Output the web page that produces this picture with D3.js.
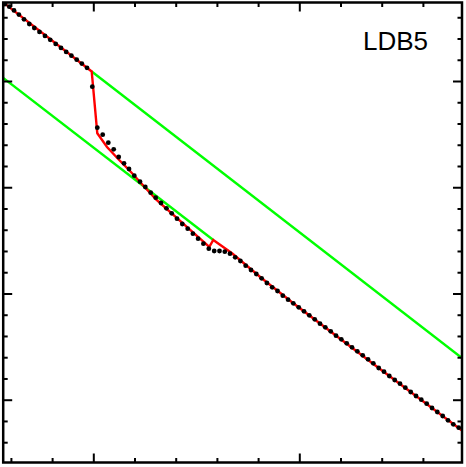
<!DOCTYPE html>
<html>
<head>
<meta charset="utf-8">
<script src="https://cdn.jsdelivr.net/npm/d3@7"></script>
<style>
html,body{margin:0;padding:0;background:#fff;}
svg{display:block;}
</style>
</head>
<body>
<script>
// ---- data ----
const dotX = [0.5714,0.5922,0.6150,0.6388,0.6636,0.6893,0.7136,0.7388,0.7655,0.7908,0.8175,0.8432,0.8684,0.8937,0.9194,0.9442,0.9694,
  0.9951,1.0194,1.0456,1.0728,1.0990,1.1233,1.1490,1.1733,1.1990,1.2267,1.2524,1.2786,1.3029,1.3286,1.3549,1.3806,1.4063,1.4320,
  1.4583,1.4835,1.5087,1.5345,1.5607,1.5869,1.6126,1.6383,1.6636,1.6888,1.7141,1.7398,1.7655,1.7913,1.8170,1.8427,1.8684,1.8942,
  1.9199,1.9456,1.9709,1.9971,2.0228,2.0485,2.0748,2.1005,2.1262,2.1524,2.1782,2.2039,2.2301,2.2558,2.2816,2.3078,2.3335,2.3592,
  2.3854,2.4112,2.4369,2.4631,2.4888,2.5146,2.5408,2.5665,2.5922,2.6184,2.6442,2.6699,2.6961,2.7218,2.7476,2.7738];
const dotY = [3.725,3.6995,3.6647,3.6252,3.5809,3.5367,3.4990,3.4623,3.4247,3.3879,3.3493,3.3117,3.2741,3.2383,3.2006,3.1639,3.1244,
  2.9464,2.5605,2.4946,2.4193,2.3572,2.2847,2.2254,2.1717,2.1086,2.0522,2.0023,1.9486,1.9015,1.8517,1.8018,1.7547,1.7039,1.6540,
  1.6097,1.5627,1.5156,1.4685,1.4214,1.3998,1.3998,1.3932,1.3744,1.3405,1.3057,1.2614,1.2210,1.1833,1.1428,1.0986,1.0581,1.0233,
  0.9790,0.9414,0.9075,0.8698,0.8322,0.7945,0.7568,0.7154,0.6815,0.6439,0.6025,0.5686,0.5309,0.4933,0.4556,0.4180,0.3803,0.3427,
  0.2984,0.2636,0.2231,0.1854,0.1506,0.1130,0.0725,0.0348,0.0000,-0.0377,-0.0781,-0.1158,-0.1534,-0.1939,-0.2316,-0.2636];

const fitX = [0.5626,0.9922,1.0194,1.0665,1.1233,1.1782,1.3044,1.5631,1.5825,1.6733,1.8189,1.9709,2.3854,2.7898];
const fitY = [3.739,3.0895,2.5078,2.3788,2.2611,2.1529,1.8846,1.4393,1.5034,1.3782,1.1409,0.9075,0.2984,-0.2899];

const upperX = [0.9922,2.7898];
const upperY = [3.0895,0.3916];
const lowerX = [0.5626,1.5825];
const lowerY = [3.0283,1.5034];

const xMinor = [0.6,0.8,1.2,1.4,1.6,1.8,2.2,2.4,2.6];
const xMajor = [1.0,2.0];
const yMinor = [-0.4,-0.2,0.2,0.4,0.6,0.8,1.2,1.4,1.6,1.8,2.2,2.4,2.6,2.8,3.2,3.4,3.6];
const yMajor = [0,1,2,3];
const label = "LDB5";

// ---- layout ----
const W = 466, H = 467;
const L = 3.2, R = 462, T = 2.5, B = 462.5;

const x = d3.scaleLinear().domain([0.5626, 2.7898]).range([L, R]);
const y = d3.scaleLinear().domain([-0.591, 3.739]).range([B, T]);

const svg = d3.select("body").append("svg").attr("width", W).attr("height", H);

svg.append("defs").append("clipPath").attr("id","clip")
  .append("rect").attr("x", L).attr("y", T).attr("width", R-L).attr("height", B-T);

const plot = svg.append("g").attr("clip-path","url(#clip)");

const line = d3.line().x(d => x(d[0])).y(d => y(d[1]));

plot.append("path").datum(d3.zip(upperX, upperY)).attr("d", line)
  .attr("fill","none").attr("stroke","#00ff00").attr("stroke-width",2.4);
plot.append("path").datum(d3.zip(lowerX, lowerY)).attr("d", line)
  .attr("fill","none").attr("stroke","#00ff00").attr("stroke-width",2.4);
plot.append("path").datum(d3.zip(fitX, fitY)).attr("d", line)
  .attr("fill","none").attr("stroke","#ff0000").attr("stroke-width",2.4).attr("stroke-linejoin","miter");

plot.selectAll("circle").data(d3.zip(dotX, dotY)).join("circle")
  .attr("cx", d => x(d[0])).attr("cy", d => y(d[1])).attr("r", 2.4).attr("fill","#000");

// ---- ticks (inside, all four sides) ----
function addAxis(gen, tf, vals, size) {
  const g = svg.append("g").attr("transform", tf)
    .call(gen.tickValues(vals).tickSize(size).tickFormat(""));
  g.select(".domain").remove();
  g.selectAll("line").attr("stroke","#000").attr("stroke-width",2);
}
addAxis(d3.axisBottom(x), `translate(0,${B})`, xMinor, -4.5);
addAxis(d3.axisBottom(x), `translate(0,${B})`, xMajor, -9);
addAxis(d3.axisTop(x), `translate(0,${T})`, xMinor, -4.5);
addAxis(d3.axisTop(x), `translate(0,${T})`, xMajor, -9);
addAxis(d3.axisLeft(y), `translate(${L},0)`, yMinor, -4.5);
addAxis(d3.axisLeft(y), `translate(${L},0)`, yMajor, -9);
addAxis(d3.axisRight(y), `translate(${R},0)`, yMinor, -4.5);
addAxis(d3.axisRight(y), `translate(${R},0)`, yMajor, -9);

// frame
svg.append("rect").attr("x", L).attr("y", T).attr("width", R-L).attr("height", B-T)
  .attr("fill","none").attr("stroke","#000").attr("stroke-width",2.5);

// label
svg.append("text").attr("x", 363).attr("y", 50)
  .attr("font-family","'Liberation Sans', Arial, sans-serif").attr("font-size", 26)
  .attr("fill","#000").text(label);
</script>
</body>
</html>
